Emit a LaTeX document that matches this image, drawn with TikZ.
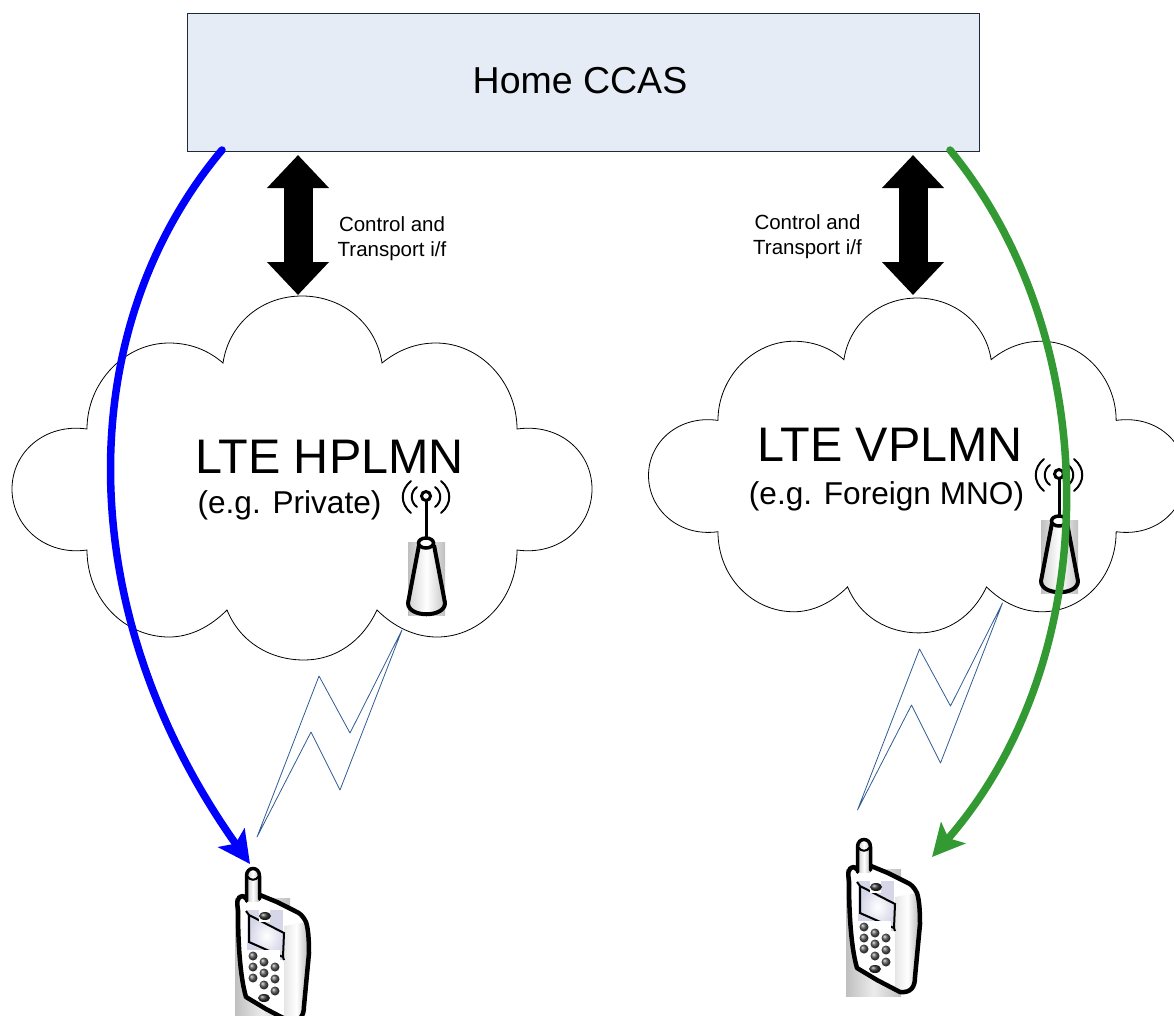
\documentclass[tikz,border=0pt]{standalone}
\usepackage{fontspec}
\setmainfont{Liberation Sans}
\usetikzlibrary{arrows.meta}
\definecolor{ccasfill}{HTML}{E6ECF6}
\definecolor{ccasline}{HTML}{1F2A3A}
\definecolor{boltline}{HTML}{2F5C94}
\definecolor{grnarrow}{HTML}{339933}
\tikzset{
  ccasbox/.style={draw=ccasline,fill=ccasfill,line width=0.8pt,minimum width=792pt,minimum height=138pt,inner sep=0pt},
  ccasname/.style={inner sep=0pt,font=\fontsize{37.5}{37.5}\selectfont},
  netname/.style={inner sep=0pt,font=\fontsize{48.5}{48.5}\selectfont},
  netnote/.style={inner sep=0pt,font=\fontsize{31.6}{31.6}\selectfont},
  ifnote/.style={inner sep=0pt,align=center,font=\fontsize{20.5}{25}\selectfont},
  ifarrow/.style={line width=29pt,{Triangle[length=33pt,width=60pt]}-{Triangle[length=33pt,width=60pt]}},
  radioarrow/.style={line width=7.5pt,line cap=round,-{Stealth[length=32pt,width=32pt,inset=7pt]}},
  pics/cloudline/.style={code={
    \draw[line width=0.8pt,line join=miter]
      (223,363) .. controls (229,323) and (262,296) .. (302,296) .. controls (342,296) and (376,323) .. (382,363)
      .. controls (398,350) and (416,343) .. (436,343) .. controls (480,343) and (517,382) .. (517,429)
      .. controls (560,423) and (592,452) .. (592,489) .. controls (592,526) and (560,556) .. (517,550)
      .. controls (517,600) and (480,637) .. (437,637) .. controls (415,637) and (394,627) .. (377,610)
      .. controls (362,642) and (335,660) .. (304,660) .. controls (270,660) and (240,642) .. (227,610)
      .. controls (210,627) and (190,637) .. (169,637) .. controls (125,637) and (87,600) .. (87,550)
      .. controls (45,556) and (12,526) .. (12,489) .. controls (12,452) and (45,423) .. (87,429)
      .. controls (87,382) and (125,343) .. (169,343) .. controls (190,343) and (208,350) .. (223,363) -- cycle;
  }},
  pics/boltline/.style={code={
    \draw[boltline,line width=0.8pt,line join=round]
      (402,630) -- (350,733) -- (319,676) -- (257,837) -- (311,732) -- (340,790) -- cycle;
  }},
  pics/tower/.style={code={
    % base picture and mast
    \shade[left color=gray!50,right color=gray!50,middle color=gray!10] (408,542) rectangle (445,615);
    \shade[left color=gray!35,right color=gray!45,middle color=white]
      (419,543) -- (408,603) .. controls (408,618) and (445,618) .. (445,603) -- (434,543) -- cycle;
    \draw[line width=4pt,line join=round]
      (419,545) -- (408,603) .. controls (408,618) and (445,618) .. (445,603) -- (434,545);
    \draw[line width=3.5pt,fill=white] (426,543) ellipse (7.5 and 5);
    \draw[line width=3pt] (426,540) -- (426,501);
    \draw[line width=3pt,fill=white] (426,496) circle (4.5);
    % radio waves
    \draw[line width=2pt,line cap=round]
      (411,481) .. controls (400,490) and (400,504) .. (411,513)
      (417,487) .. controls (410,492) and (410,502) .. (417,507)
      (441,481) .. controls (452,490) and (452,504) .. (441,513)
      (435,487) .. controls (442,492) and (442,502) .. (435,507);
  }},
  pics/handset/.style={code={
    % grey backing and body
    \shade[left color=gray!50,right color=gray!50,middle color=gray!15] (235,898) rectangle (290,1025);
    \fill[white] (248,900) -- (243,896) .. controls (236,897) and (237,903) .. (238,910)
      .. controls (238,950) and (241,980) .. (246,997) -- (266,1009) -- (289,1021) .. controls (300,1022) and (304,1016) .. (304,1006)
      -- (309,953) .. controls (309,938) and (308,928) .. (306,922) -- (300,913) -- (277,902) -- (260,895) -- cycle;
    \shade[left color=gray!20,right color=gray!60,middle color=white]
      (284,926) -- (306,922) .. controls (308,928) and (309,938) .. (309,953) -- (304,1006) .. controls (304,1016) and (300,1022) .. (289,1021) -- (284,1018) -- cycle;
    % screen
    \fill[blue!30!gray!25] (247,910) rectangle (283,960);
    \shade[inner color=white,outer color=blue!30!gray!25,draw=black,line width=2pt]
      (249,915) -- (284,933) -- (283,957) -- (249,942) -- cycle;
    \draw[line width=2pt] (246,911) -- (249,915) (283,957) -- (284,960);
    % keys
    \fill[white] (247,950) rectangle (280,993);
    \foreach \kx/\ky in {253/956,264/962,275/967,253/967,264/973,275/979,253/978,264/985,275/991}
      \shade[ball color=gray!70!black] (\kx,\ky) circle (4.5);
    \fill[white] (259,910) rectangle (270,922);
    \shade[ball color=gray!40!black] (265,916) ellipse (6 and 4);
    \shade[ball color=gray!40!black] (264,998) ellipse (6 and 4);
    % outline and aerial
    \draw[line width=4.5pt,line join=round] (248,900) -- (243,896) .. controls (236,897) and (237,903) .. (238,910)
      .. controls (238,950) and (241,980) .. (246,997) -- (266,1009) -- (289,1021) .. controls (300,1022) and (304,1016) .. (304,1006)
      -- (309,953) .. controls (309,938) and (308,928) .. (306,922) .. controls (303,916) and (300,913) .. (295,911) -- (277,902) -- (260,895);
    \shade[left color=gray!40,right color=gray!50,middle color=white] (247,872) rectangle (259,901);
    \draw[line width=3.5pt,line cap=round] (246.5,901) -- (246.5,876) .. controls (246.5,866) and (259.5,866) .. (259.5,876) -- (259.5,899);
    \draw[line width=2pt] (247,876) .. controls (250,881) and (256,881) .. (259,876);
  }}
}
\begin{document}
\begin{tikzpicture}[x=1pt,y=-1pt]
    \useasboundingbox (0,0) rectangle (1174,1015);
    % draw top box
    \node[ccasbox] (ccas) at (583,82) {};
    \node[ccasname] (ccastext) at (580,81) {Home CCAS};
    % draw clouds
    \pic {cloudline};
    \begin{scope}[shift={(637.4,25.7)},xscale=.926,yscale=.92]
      \pic[transform shape] {cloudline};
    \end{scope}
    \node[netname] (hplmn) at (329.5,457) {LTE HPLMN};
    \node[netnote] (hnote) at (289.5,505) {(e.g. Private)};
    \node[netname] (vplmn) at (890,445) {LTE VPLMN};
    \node[netnote] (vnote) at (886.5,496) {(e.g. Foreign MNO)};
    \node[ifnote] (hif) at (392,239) {Control and\\Transport i/f};
    \node[ifnote] (vif) at (807.5,237) {Control and\\Transport i/f};
    % draw towers, handsets and radio links
    \pic {tower};
    \pic[shift={(633,-22)}] {tower};
    \pic {boltline};
    \pic[shift={(600.5,-27)}] {boltline};
    \pic {handset};
    \pic[shift={(611,-29)}] {handset};
    % draw interfaces
    \coordinate (htop) at (298,155);
    \coordinate (hbot) at (298,295);
    \coordinate (vtop) at (913,155);
    \coordinate (vbot) at (913,295);
    \draw[ifarrow] (htop) -- (hbot);
    \draw[ifarrow] (vtop) -- (vbot);
    % draw home routed arrows
    \coordinate (hstart) at (222,150);
    \coordinate (hphone) at (250,864);
    \coordinate (vstart) at (950,150);
    \coordinate (vphone) at (932,857);
    \draw[radioarrow,blue] (hstart) .. controls (71,330) and (71,612) .. (hphone);
    \draw[radioarrow,grnarrow] (vstart) .. controls (1106,340) and (1106,658) .. (vphone);
\end{tikzpicture}
\end{document}
